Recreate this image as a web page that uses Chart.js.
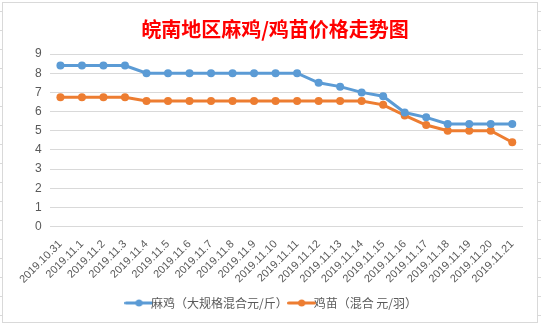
<!DOCTYPE html>
<html>
<head>
<meta charset="utf-8">
<script src="https://cdn.jsdelivr.net/npm/chart.js@4"></script>
<style>
  html, body { margin: 0; padding: 0; background: #fff; }
  body {
    width: 541px; height: 326px; position: relative; overflow: hidden;
    background-image:
      repeating-linear-gradient(to bottom, transparent 0, transparent 11px, #d9d9d9 11px, #d9d9d9 12px, transparent 12px, transparent 19px);
  }
  #box {
    position: absolute; left: 2px; top: 2px; width: 534px; height: 319px;
    border: 1px solid #d9d9d9; background: #fff;
  }
  canvas { display: block; }
</style>
</head>
<body>
<div id="box"><canvas id="c" width="534" height="319"></canvas></div>
<script>
// даты
const dates = ['2019.10.31', '2019.11.1', '2019.11.2', '2019.11.3', '2019.11.4', '2019.11.5',
  '2019.11.6', '2019.11.7', '2019.11.8', '2019.11.9', '2019.11.10', '2019.11.11',
  '2019.11.12', '2019.11.13', '2019.11.14', '2019.11.15', '2019.11.16', '2019.11.17',
  '2019.11.18', '2019.11.19', '2019.11.20', '2019.11.21'];

// 麻鸡 цена
const majiPrice = [8.4, 8.4, 8.4, 8.4, 8.0, 8.0, 8.0, 8.0, 8.0, 8.0, 8.0, 8.0,
  7.5, 7.3, 7.0, 6.8, 5.95, 5.7, 5.35, 5.35, 5.35, 5.35];

// 鸡苗 цена
const jimiaoPrice = [6.75, 6.75, 6.75, 6.75, 6.55, 6.55, 6.55, 6.55, 6.55, 6.55, 6.55, 6.55,
  6.55, 6.55, 6.55, 6.35, 5.8, 5.3, 5.0, 5.0, 5.0, 4.4];

const seriesNames = ['麻鸡（大规格混合元/斤）', '鸡苗（混合 元/羽）'];
const yTicks = [0, 1, 2, 3, 4, 5, 6, 7, 8, 9];

const blue = '#5B9BD5';
const orange = '#ED7D31';

// значок легенды: линия с кружком
function legendIcon(color) {
  const c = document.createElement('canvas');
  c.width = 29; c.height = 10;
  const g = c.getContext('2d');
  g.strokeStyle = color;
  g.lineWidth = 3;
  g.lineCap = 'round';
  g.beginPath(); g.moveTo(1.5, 5); g.lineTo(27.5, 5); g.stroke();
  g.fillStyle = color;
  g.beginPath(); g.arc(14.5, 5, 3.5, 0, Math.PI * 2); g.fill();
  return c;
}

const ctx = document.getElementById('c').getContext('2d');
new Chart(ctx, {
  type: 'line',
  data: {
    labels: dates,
    datasets: [{
      label: seriesNames[0],
      data: majiPrice,
      borderColor: blue,
      backgroundColor: blue,
      borderWidth: 3,
      pointRadius: 4,
      pointBorderWidth: 0
    }, {
      label: seriesNames[1],
      data: jimiaoPrice,
      borderColor: orange,
      backgroundColor: orange,
      borderWidth: 3,
      pointRadius: 4,
      pointBorderWidth: 0
    }]
  },
  options: {
    responsive: false,
    animation: false,
    layout: { padding: { left: 24, right: 14, top: 4, bottom: 3 } },
    plugins: {
      title: {
        display: true,
        text: '皖南地区麻鸡/鸡苗价格走势图',
        color: '#FF0000',
        font: { family: '"Noto Sans CJK SC"', size: 20, weight: 'bold' },
        padding: { top: 10, bottom: 13 }
      },
      legend: {
        position: 'bottom',
        labels: {
          usePointStyle: true,
          color: '#595959',
          font: { family: '"Noto Sans CJK SC"', size: 12 },
          boxHeight: 10,
          padding: 8,
          generateLabels(chart) {
            return chart.data.datasets.map((ds, i) => ({
              text: ds.label,
              fillStyle: ds.borderColor,
              strokeStyle: ds.borderColor,
              fontColor: '#595959',
              pointStyle: legendIcon(ds.borderColor),
              datasetIndex: i
            }));
          }
        }
      },
      tooltip: { enabled: false }
    },
    scales: {
      x: {
        offset: true,
        grid: { display: false },
        border: { display: false },
        ticks: {
          color: '#595959',
          font: { family: '"Liberation Sans"', size: 11 },
          minRotation: 45,
          maxRotation: 45,
          autoSkip: false,
          padding: 3
        }
      },
      y: {
        min: yTicks[0],
        max: yTicks[yTicks.length - 1],
        afterBuildTicks(axis) { axis.ticks = yTicks.map(v => ({ value: v })); },
        grid: { color: '#d9d9d9', drawTicks: false },
        border: { display: false },
        ticks: {
          color: '#595959',
          font: { family: '"Liberation Sans"', size: 12 },
          padding: 8
        }
      }
    }
  }
});
</script>
</body>
</html>
